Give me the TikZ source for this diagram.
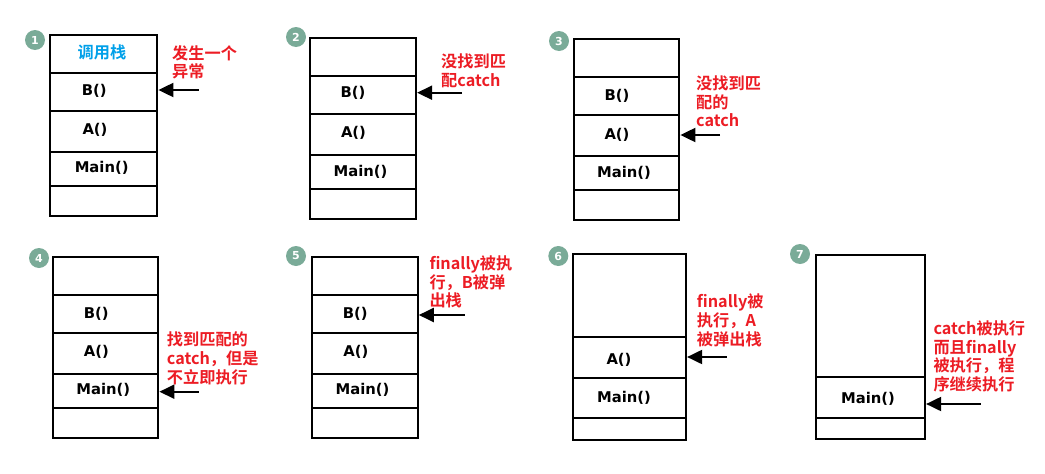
\documentclass[tikz,border=0pt]{standalone}
\usepackage{fontspec}
\setmainfont{DejaVu Sans}
\newfontfamily\cjkb{Noto Sans CJK SC Bold}
\usetikzlibrary{arrows.meta}
\definecolor{redtxt}{RGB}{236,28,36}
\definecolor{bluetxt}{RGB}{0,160,233}
\definecolor{badgecol}{RGB}{122,171,152}
\begin{document}
\begin{tikzpicture}[x=1pt,y=-1pt,
  cell/.style 2 args={draw, line width=2.1pt, anchor=north west, inner sep=0pt,
    minimum width=#1pt, minimum height=#2pt},
  lbl/.style={inner sep=0pt, font=\bfseries\fontsize{14.8}{16}\selectfont},
  note/.style={anchor=north west, inner sep=0pt, align=left, text=redtxt,
    font=\cjkb\fontsize{16.2}{18.8}\selectfont},
  badge/.style={circle, fill=badgecol, text=white, minimum size=20pt, inner sep=0pt,
    font=\bfseries\fontsize{11}{11}\selectfont},
  arr/.style={line width=2pt, -{Triangle[length=15pt,width=14pt]}}]
\useasboundingbox (0,0) rectangle (1045,474);

% ---------- panel 1 ----------
\node[cell={107}{37.7}] (c1t) at (49.3,34) {};
\node[cell={107}{38}]   (c1b) at (49.3,71.7) {};
\node[cell={107}{41}]   (c1a) at (49.3,109.7) {};
\node[cell={107}{34}]   (c1m) at (49.3,150.7) {};
\node[cell={107}{30.3}] (c1e) at (49.3,184.7) {};
\node[inner sep=0pt, text=bluetxt, font=\cjkb\fontsize{16.2}{18}\selectfont] (l1t) at (102,52) {调用栈};
\node[lbl] (l1b) at (94.3,90.7) {B()};
\node[lbl] (l1a) at (95,130) {A()};
\node[lbl] (l1m) at (101.7,167.7) {Main()};
\node[badge] (b1) at (35,40) {1};
\node[note] (n1) at (172,45) {发生一个\\异常};
\coordinate (s1) at (198.7,90);
\draw[arr] (s1) -- (s1 -| c1b.east);

% ---------- panel 2 ----------
\node[cell={106}{38.3}] (c2t) at (309,36.7) {};
\node[cell={106}{38.3}] (c2b) at (309,75) {};
\node[cell={106}{41}]   (c2a) at (309,113.3) {};
\node[cell={106}{34}]   (c2m) at (309,154.3) {};
\node[cell={106}{29.7}] (c2e) at (309,188.3) {};
\node[lbl] (l2b) at (353,92.7) {B()};
\node[lbl] (l2a) at (353.5,133.3) {A()};
\node[lbl] (l2m) at (360.5,171.7) {Main()};
\node[badge] (b2) at (296,37) {2};
\node[note] (n2) at (441,53.7) {没找到匹\\配catch};
\coordinate (s2) at (462,92.7);
\draw[arr] (s2) -- (s2 -| c2b.east);

% ---------- panel 3 ----------
\node[cell={105.6}{38}]   (c3t) at (572.7,37.7) {};
\node[cell={105.6}{38.3}] (c3b) at (572.7,75.7) {};
\node[cell={105.6}{41}]   (c3a) at (572.7,114) {};
\node[cell={105.6}{34}]   (c3m) at (572.7,155) {};
\node[cell={105.6}{30.3}] (c3e) at (572.7,189) {};
\node[lbl] (l3b) at (617,96) {B()};
\node[lbl] (l3a) at (617,135) {A()};
\node[lbl] (l3m) at (624,172.7) {Main()};
\node[badge] (b3) at (559,41) {3};
\node[note] (n3) at (696,75.3) {没找到匹\\配的\\catch};
\coordinate (s3) at (720,135);
\draw[arr] (s3) -- (s3 -| c3a.east);

% ---------- panel 4 ----------
\node[cell={105.6}{38}]   (c4t) at (51.7,256) {};
\node[cell={105.6}{38.3}] (c4b) at (51.7,294) {};
\node[cell={105.6}{40.4}] (c4a) at (51.7,332.3) {};
\node[cell={105.6}{34.6}] (c4m) at (51.7,372.7) {};
\node[cell={105.6}{29.4}] (c4e) at (51.7,407.3) {};
\node[lbl] (l4b) at (96.3,314) {B()};
\node[lbl] (l4a) at (96.3,352.3) {A()};
\node[lbl] (l4m) at (103.3,390) {Main()};
\node[badge] (b4) at (39,258) {4};
\node[note] (n4) at (166.7,332) {找到匹配的\\catch，但是\\不立即执行};
\coordinate (s4) at (198.7,391.7);
\draw[arr] (s4) -- (s4 -| c4m.east);

% ---------- panel 5 ----------
\node[cell={106}{38}]   (c5t) at (310.7,256) {};
\node[cell={106}{38.3}] (c5b) at (310.7,294) {};
\node[cell={106}{40.4}] (c5a) at (310.7,332.3) {};
\node[cell={106}{34.6}] (c5m) at (310.7,372.7) {};
\node[cell={106}{29.4}] (c5e) at (310.7,407.3) {};
\node[lbl] (l5b) at (355.3,314) {B()};
\node[lbl] (l5a) at (355.8,352.3) {A()};
\node[lbl] (l5m) at (362.5,390) {Main()};
\node[badge] (b5) at (296,256) {5};
\node[note] (n5) at (429.3,255.3) {finally被执\\行，B被弹\\出栈};
\coordinate (s5) at (464.7,315);
\draw[arr] (s5) -- (s5 -| c5b.east);

% ---------- panel 6 ----------
\node[cell={113.3}{83.3}] (c6t) at (571.7,252.7) {};
\node[cell={113.3}{41}]   (c6a) at (571.7,336) {};
\node[cell={113.3}{40}]   (c6m) at (571.7,377) {};
\node[cell={113.3}{22}]   (c6e) at (571.7,417) {};
\node[lbl] (l6a) at (619,360) {A()};
\node[lbl] (l6m) at (624,397.7) {Main()};
\node[badge] (b6) at (558.3,256) {6};
\node[note] (n6) at (696.7,293.7) {finally被\\执行，A\\被弹出栈};
\coordinate (s6) at (726.7,357);
\draw[arr] (s6) -- (s6 -| c6a.east);

% ---------- panel 7 ----------
\node[cell={109}{121.7}] (c7t) at (815,254.3) {};
\node[cell={109}{40.7}]  (c7m) at (815,376) {};
\node[cell={109}{21}]    (c7e) at (815,416.7) {};
\node[lbl] (l7m) at (868,399.3) {Main()};
\node[badge] (b7) at (800,254) {7};
\node[note] (n7) at (933.3,320.3) {catch被执行\\而且finally\\被执行，程\\序继续执行};
\coordinate (s7) at (980.7,404);
\draw[arr] (s7) -- (s7 -| c7m.east);
\end{tikzpicture}
\end{document}
